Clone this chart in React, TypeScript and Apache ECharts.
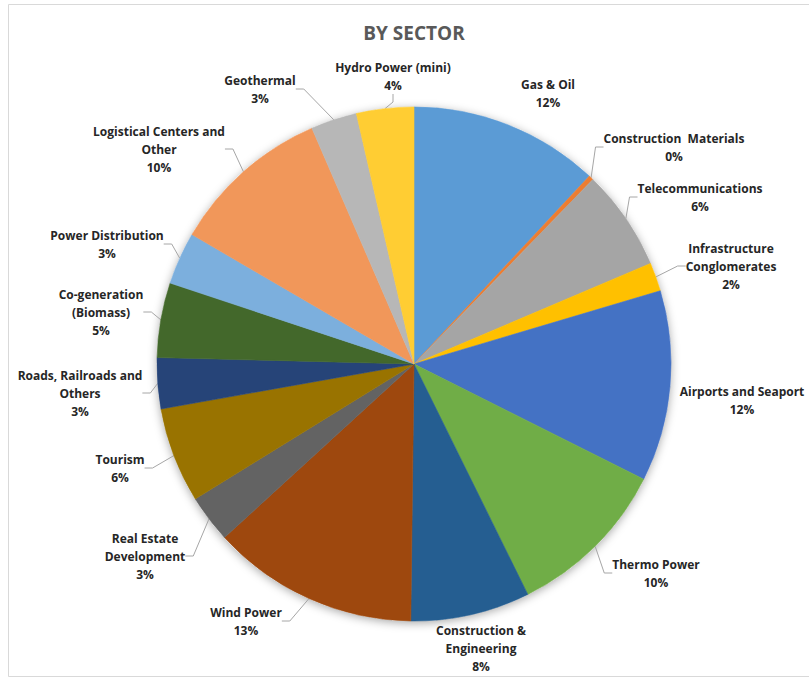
import React, { useEffect, useRef } from "react";
import * as echarts from "echarts";

const categories = [
  "Gas & Oil",
  "Construction  Materials",
  "Telecommunications",
  "Infrastructure\nConglomerates",
  "Airports and Seaport",
  "Thermo Power",
  "Construction &\nEngineering",
  "Wind Power",
  "Real Estate\nDevelopment",
  "Tourism",
  "Roads, Railroads and\nOthers",
  "Co-generation\n(Biomass)",
  "Power Distribution",
  "Logistical Centers and\nOther",
  "Geothermal",
  "Hydro Power (mini)",
];

const shares = [11.95, 0.3, 6.35, 1.8, 12.0, 10.3, 7.5, 13.0, 3.0, 6.0, 3.2, 4.7, 3.3, 10.1, 2.9, 3.6];

const colors = [
  "#5B9BD5", "#ED7D31", "#A5A5A5", "#FFC000", "#4472C4", "#70AD47", "#255E91", "#9E480E",
  "#636363", "#997300", "#264478", "#43682B", "#7CAFDD", "#F1975A", "#B7B7B7", "#FFCD33",
];

// label block centres (layout only)
const labelPos: [number, number][] = [
  [548, 93], [674, 147], [700, 197], [731, 266], [742, 400], [656, 573], [481, 648], [246, 621],
  [145, 556], [120, 468], [80, 393], [101, 312], [107, 244], [159, 149], [260, 89], [393, 76],
];
const showLine = [false, true, true, true, false, true, false, true, true, true, true, true, true, true, true, true];

const FONT = "'Open Sans', Lato, sans-serif";

export default function App() {
  const ref = useRef<HTMLDivElement>(null);
  useEffect(() => {
    if (!ref.current) return;
    const chart = echarts.init(ref.current, null, { renderer: "svg" });
    chart.setOption({
      animation: false,
      backgroundColor: "#ffffff",
      graphic: [
        {
          type: "rect",
          shape: { x: 8.5, y: 4.5, width: 820, height: 672 },
          style: { fill: "none", stroke: "#d9d9d9", lineWidth: 1 },
          silent: true,
          z: -10,
        },
        {
          type: "text",
          x: 414,
          y: 33,
          silent: true,
          style: {
            text: "BY SECTOR",
            fontFamily: FONT,
            fontSize: 19,
            fontWeight: "bold",
            fill: "#595959",
            align: "center",
            verticalAlign: "middle",
          },
        },
      ],
      series: [
        {
          type: "pie",
          silent: true,
          center: [414, 364],
          radius: 257,
          z: 1,
          label: { show: false },
          labelLine: { show: false },
          itemStyle: {
            color: "#ffffff",
            shadowBlur: 10,
            shadowOffsetY: 2,
            shadowColor: "rgba(0,0,0,0.35)",
          },
          data: [{ value: 1, name: "" }],
        },
        {
          type: "pie",
          center: [414, 364],
          radius: 257,
          startAngle: 90,
          clockwise: true,
          z: 2,
          avoidLabelOverlap: false,
          label: {
            show: true,
            position: "outside",
            fontFamily: FONT,
            fontSize: 12,
            fontWeight: "bold",
            color: "#262626",
            lineHeight: 18,
            align: "center",
            formatter: (p: any) => `${p.name}\n${Math.round(p.value)}%`,
          },
          labelLine: {
            show: true,
            length: 8,
            length2: 8,
            lineStyle: { color: "#a6a6a6", width: 1 },
          },
          labelLayout: (p: any) => {
            const [x, y] = labelPos[p.dataIndex];
            return { x, y, align: "center", verticalAlign: "middle" };
          },
          data: categories.map((name, i) => ({
            name,
            value: shares[i],
            itemStyle: { color: colors[i], borderColor: colors[i], borderWidth: 0.6 },
            labelLine: { show: showLine[i] },
          })),
        },
      ],
    });
    return () => chart.dispose();
  }, []);
  return (
    <div
      ref={ref}
      style={{ position: "fixed", left: 0, top: 0, width: 809, height: 678 }}
    />
  );
}
